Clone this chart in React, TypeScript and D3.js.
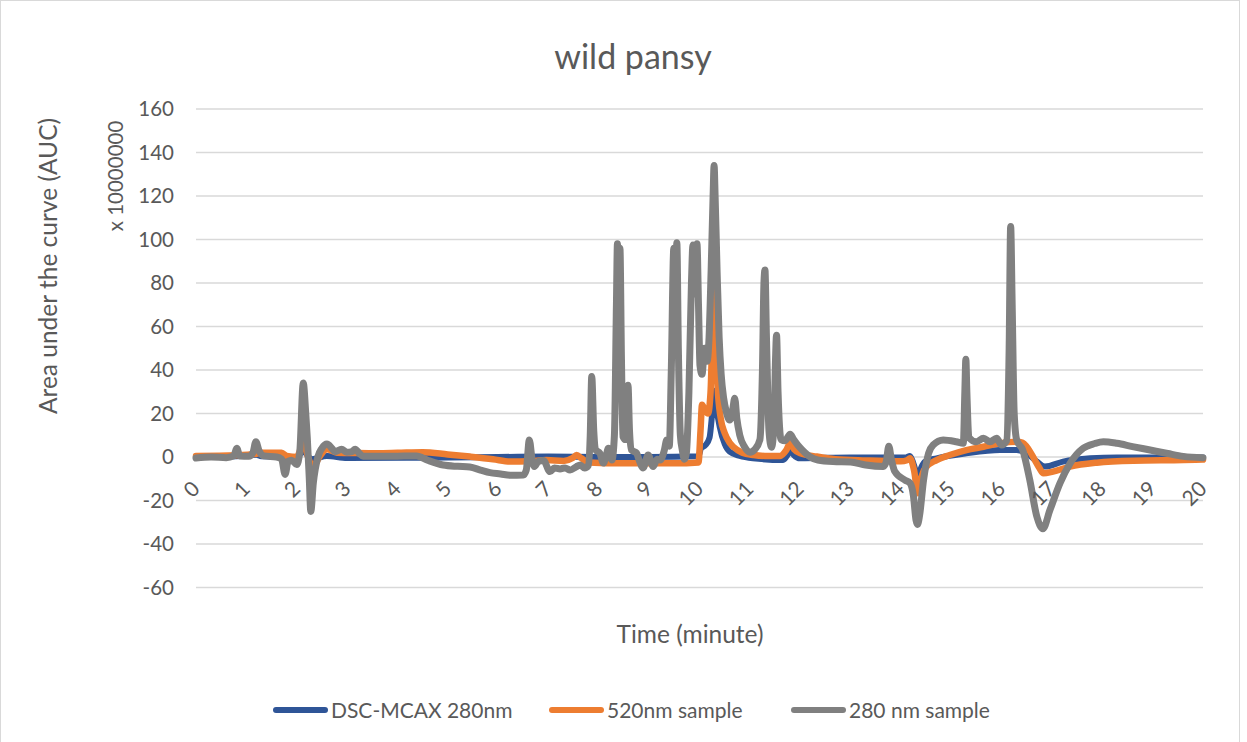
import React from "react";
import * as d3 from "d3";

// Time axis ticks (minutes) and value axis ticks (x 10000000)
const timeTicks = d3.range(0, 21);
const aucTicks = [-60, -40, -20, 0, 20, 40, 60, 80, 100, 120, 140, 160];

// [time (min), AUC x 1e7]
const dscMcax280: [number, number][] = [
  [0, 0], [0.8, 0.3], [1.2, 1], [1.3, 0.3], [2.0, 0], [2.13, 2.4], [2.3, -1], [2.6, 0.5],
  [3.0, -0.5], [4.5, -0.3], [6.0, 0], [7.0, 0.2], [8.0, 0], [9.0, 0], [9.98, 0.3],
  [10.03, 4], [10.12, 5.5], [10.2, 9], [10.26, 22], [10.3, 30.5], [10.34, 22], [10.4, 14],
  [10.5, 6], [10.6, 2.4], [10.8, 0.5], [11.06, -0.6], [11.66, -1.4], [11.75, 1], [11.8, 3.2],
  [11.87, 1], [12.0, -0.6], [13.0, -0.2], [14.1, -0.2], [14.18, 0.5], [14.25, -3], [14.34, -9],
  [14.4, -5], [14.48, -2.1], [14.71, -0.6], [15.3, 1.7], [15.97, 3.2], [16.3, 3.2], [16.5, 1.7],
  [16.7, -2.1], [16.86, -4.4], [17.22, -2.1], [17.76, -0.6], [18.29, -0.2], [20, -0.2],
];

const sample520: [number, number][] = [
  [0, 0.5], [0.8, 0.8], [1.2, 1.5], [1.3, 2], [1.7, 2], [1.8, 0.5], [2.0, 0], [2.1, 5],
  [2.15, 7], [2.2, 2], [2.33, -4.4], [2.45, 0], [2.6, 3.6], [2.8, 2], [3.2, 1.8], [3.6, 1.7],
  [4.0, 1.9], [4.5, 2.2], [5.0, 1.2], [5.44, 0.2], [5.9, -1], [6.24, -2.1], [6.6, -2],
  [6.96, -1.4], [7.3, -1.8], [7.48, -0.5], [7.56, 0.9], [7.65, -0.5], [7.8, -2.5], [8.5, -2.9],
  [9.5, -2.9], [9.98, -2.5], [10.02, 12], [10.05, 24], [10.1, 22], [10.17, 20], [10.22, 30],
  [10.26, 62], [10.29, 89], [10.32, 62], [10.36, 32], [10.42, 18], [10.5, 11], [10.6, 6.5],
  [10.67, 4.7], [10.85, 2], [11.07, 0.9], [11.3, 0.5], [11.6, 0.5], [11.72, 3], [11.8, 6.3],
  [11.88, 3.5], [12.0, 1.7], [12.33, 0.2], [12.7, -1], [13.3, -1.6], [14.0, -2], [14.12, -1.5],
  [14.18, -0.6], [14.26, -6], [14.34, -16.7], [14.4, -10], [14.48, -5.2], [14.71, -1.4],
  [14.97, 0.9], [15.3, 3.2], [15.64, 4.7], [15.97, 6.3], [16.3, 7], [16.42, 6.5], [16.5, 4.7],
  [16.66, -1.4], [16.75, -5], [16.83, -7.5], [17.02, -6.7], [17.36, -4.4], [17.89, -2.6],
  [18.62, -1.7], [19.61, -1.4], [20, -1.2],
];

const sample280: [number, number][] = [
  [0, -0.5], [0.3, 0], [0.6, -0.3], [0.75, 0.5], [0.81, 4], [0.87, 0.5], [1.05, 0.3], [1.13, 2],
  [1.19, 7], [1.25, 3], [1.35, 0.5], [1.6, 0], [1.7, -1], [1.77, -8], [1.83, -2], [1.9, -1.5],
  [2.0, -3.5], [2.06, 2], [2.13, 34], [2.18, 20], [2.21, 9], [2.25, -10], [2.28, -25],
  [2.33, -12], [2.42, 0], [2.5, 4], [2.6, 6], [2.7, 4], [2.76, 2.4], [2.89, 3.6], [2.99, 2.2],
  [3.1, 2.5], [3.16, 3.6], [3.25, 1.5], [3.32, 0.4], [3.6, 0.3], [4.0, 0.4], [4.38, 0.5],
  [4.6, -1.5], [4.91, -3.7], [5.2, -4.3], [5.44, -4.6], [5.65, -6], [5.84, -7.2], [6.05, -7.8],
  [6.24, -8.4], [6.5, -8.3], [6.56, -6], [6.62, 7.8], [6.68, -2], [6.72, -4.4], [6.8, -2],
  [6.9, -1.6], [7.03, -6.7], [7.12, -5], [7.23, -5.5], [7.33, -5], [7.43, -6], [7.55, -4.5],
  [7.63, -3.7], [7.72, -5.1], [7.79, -4], [7.83, 10], [7.86, 37], [7.9, 12], [7.94, 3.2],
  [8.02, 1.8], [8.09, -2.8], [8.15, 1], [8.19, 4], [8.26, -1.4], [8.31, 10], [8.35, 70],
  [8.37, 98], [8.395, 85], [8.42, 96], [8.45, 45], [8.48, 9.4], [8.53, 8], [8.56, 20],
  [8.58, 33], [8.61, 12], [8.65, 3.2], [8.75, 1.8], [8.8, -1.4], [8.88, -5], [8.98, 0.9],
  [9.08, -4.4], [9.16, -1], [9.22, -1.4], [9.3, 3], [9.35, 7.8], [9.4, 5], [9.44, 40],
  [9.49, 96], [9.52, 72], [9.55, 98.5], [9.58, 50], [9.62, 10], [9.66, 3], [9.7, -1],
  [9.74, 2], [9.79, 30], [9.84, 80], [9.87, 97.5], [9.91, 75], [9.95, 98], [9.98, 70],
  [10.01, 42], [10.05, 38], [10.1, 50], [10.15, 44], [10.19, 55], [10.23, 85], [10.27, 120],
  [10.29, 134], [10.31, 120], [10.35, 85], [10.39, 55], [10.43, 38], [10.48, 27], [10.53, 21],
  [10.6, 17], [10.66, 22], [10.7, 27], [10.74, 18], [10.8, 10], [10.9, 4.5], [11.0, 2.2],
  [11.1, 3.5], [11.2, 8], [11.25, 40], [11.28, 80], [11.3, 86], [11.33, 55], [11.38, 12],
  [11.43, 4.5], [11.48, 15], [11.51, 45], [11.53, 56], [11.56, 30], [11.62, 8], [11.7, 7.5],
  [11.8, 10.5], [11.87, 8], [11.95, 5.5], [12.05, 3], [12.2, 0], [12.35, -1.4], [12.65, -2.1],
  [13.0, -2.3], [13.3, -3.7], [13.65, -4.4], [13.71, -2], [13.76, 5], [13.81, -1], [13.88, -6.7],
  [14.08, -10.6], [14.18, -12], [14.25, -18], [14.3, -29], [14.33, -31], [14.37, -27],
  [14.45, -10.6], [14.55, 1.7], [14.64, 5.5], [14.84, 7.8], [15.1, 7], [15.24, 6.3], [15.27, 30],
  [15.29, 45], [15.31, 30], [15.35, 9], [15.5, 7], [15.64, 8.6], [15.77, 7], [15.9, 8.6],
  [16.0, 5.5], [16.1, 7.5], [16.15, 50], [16.18, 106], [16.21, 70], [16.25, 20], [16.3, 7.8],
  [16.42, 3.2], [16.56, -10.6], [16.7, -27.4], [16.82, -33], [16.96, -24.4], [17.16, -12],
  [17.36, -2.9], [17.62, 4], [17.85, 6.2], [18.02, 7], [18.29, 6.3], [18.6, 4.8], [18.95, 3.2],
  [19.3, 1.6], [19.61, 0.3], [20, -0.3],
];

const seriesNames = ["DSC-MCAX 280nm", "520nm sample", "280 nm sample"];
const seriesColors = ["#2F5597", "#ED7D31", "#808080"];
const seriesData = [dscMcax280, sample520, sample280];

const W = 1247;
const H = 742;
const FONT = "Lato, 'Open Sans', sans-serif";
const TEXT = "#595959";

export default function App() {
  const x = d3.scaleLinear().domain([0, 20]).range([196, 1203]);
  const y = d3.scaleLinear().domain([-60, 160]).range([587.5, 109]);
  const line = d3
    .line<[number, number]>()
    .x((d) => x(d[0]))
    .y((d) => y(d[1]))
    .curve(d3.curveMonotoneX);

  const widths = [6, 6.5, 7];
  const legendX = [273, 549, 791];

  return (
    <svg
      width={W}
      height={H}
      style={{ position: "absolute", left: 0, top: 0, background: "#fff" }}
      fontFamily={FONT}
    >
      <rect x={0.5} y={0.5} width={1239} height={H + 20} fill="#fff" stroke="#D9D9D9" />

      <text x={633} y={55} textAnchor="middle" dominantBaseline="central" fontSize={34} fill={TEXT}>
        wild pansy
      </text>

      {/* horizontal gridlines */}
      {aucTicks.map((t) => (
        <line key={t} x1={x(0)} x2={x(20)} y1={y(t)} y2={y(t)} stroke="#D9D9D9" strokeWidth={1.5} />
      ))}

      {/* value axis labels */}
      {aucTicks.map((t) => (
        <text key={t} x={174} y={y(t)} dy="0.36em" textAnchor="end" fontSize={20.5} fill={TEXT}>
          {t}
        </text>
      ))}

      {/* series */}
      {seriesData.map((data, i) => (
        <path
          key={seriesNames[i]}
          d={line(data) ?? ""}
          fill="none"
          stroke={seriesColors[i]}
          strokeWidth={widths[i]}
          strokeLinejoin="round"
          strokeLinecap="round"
        />
      ))}

      {/* time axis labels, slanted, sitting on the zero line */}
      {timeTicks.map((t) => (
        <text
          key={t}
          transform={`translate(${x(t) - 1},${y(0) + 27}) rotate(-45)`}
          textAnchor="end"
          dominantBaseline="central"
          fontSize={21}
          fill={TEXT}
        >
          {t}
        </text>
      ))}

      {/* axis titles */}
      <text
        transform="translate(57,266) rotate(-90)"
        textAnchor="middle"
        fontSize={24.5}
        fill={TEXT}
      >
        Area under the curve (AUC)
      </text>
      <text
        transform="translate(123,176) rotate(-90)"
        textAnchor="middle"
        fontSize={20.5}
        fill={TEXT}
      >
        x 10000000
      </text>
      <text x={690} y={633} textAnchor="middle" dominantBaseline="central" fontSize={24.5} fill={TEXT}>
        Time (minute)
      </text>

      {/* legend */}
      {seriesNames.map((name, i) => (
        <g key={name} transform={`translate(${legendX[i]},710)`}>
          <line x1={3} x2={52} y1={0} y2={0} stroke={seriesColors[i]} strokeWidth={6} strokeLinecap="round" />
          <text x={58} y={0} dy="0.36em" fontSize={21} fill={TEXT}>
            {name}
          </text>
        </g>
      ))}
    </svg>
  );
}
